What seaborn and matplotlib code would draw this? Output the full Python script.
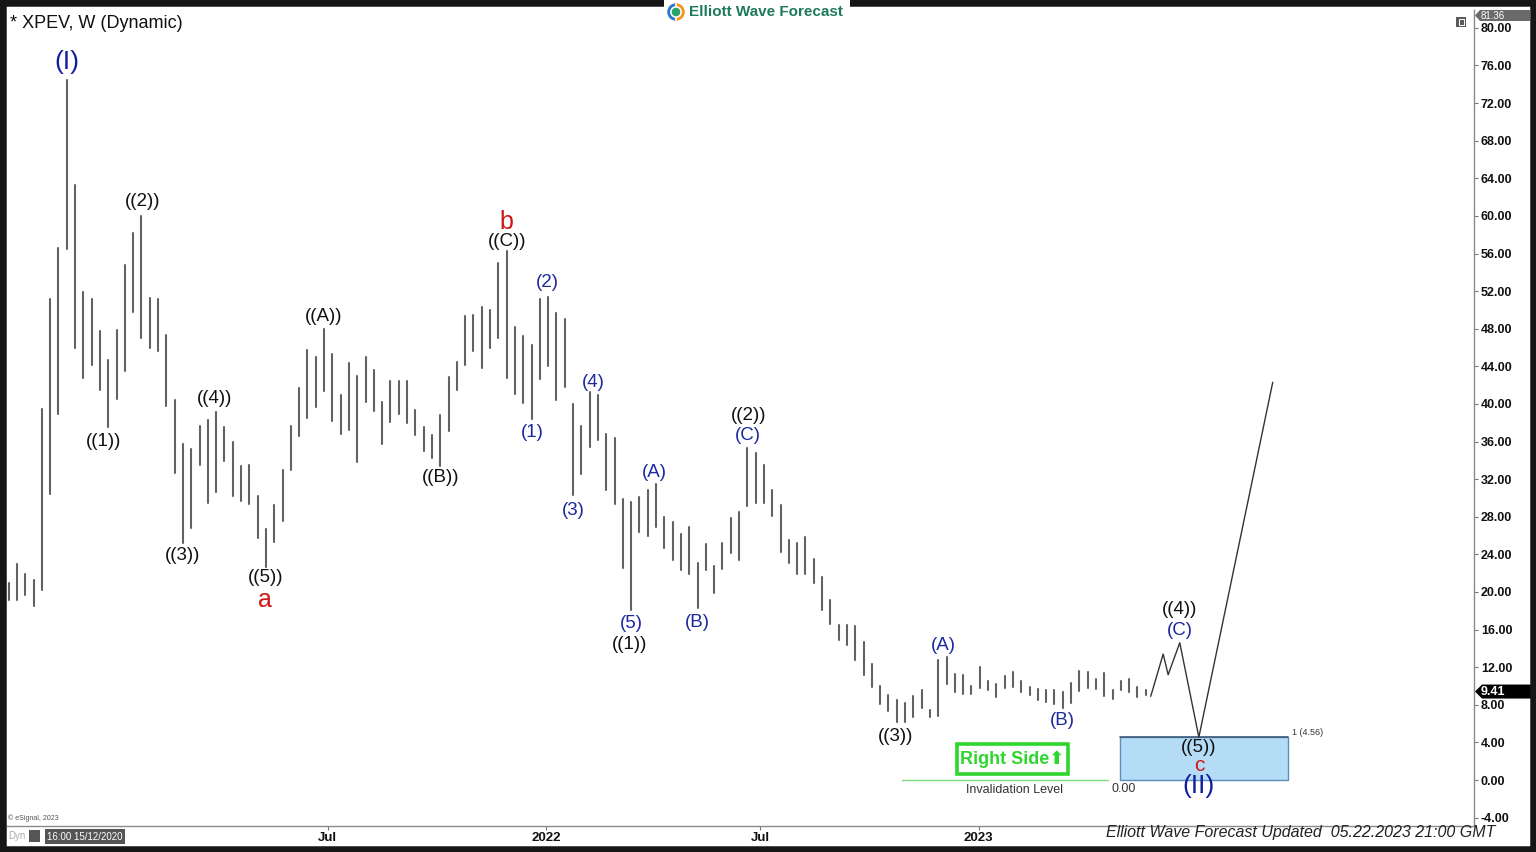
import numpy as np
import pandas as pd
import matplotlib
matplotlib.use("Agg")
import matplotlib.pyplot as plt
import matplotlib.dates as mdates
from matplotlib.patches import Rectangle, Wedge, Polygon
import seaborn as sns

# ---------------- data ----------------
START = "2020-10-05"   # first weekly bar
highs = [21.0, 23.0, 21.9, 21.3, 39.5, 51.2, 56.6, 74.5, 63.3, 51.9,
         51.2, 47.8, 44.7, 47.9, 54.8, 58.2, 60.0, 51.3, 51.2, 47.3,
         40.4, 35.7, 35.2, 37.7, 38.3, 39.1, 37.5, 36.0, 33.4, 33.5,
         30.2, 26.7, 29.3, 33.0, 37.7, 41.7, 45.7, 45.0, 48.0, 45.3,
         40.9, 44.4, 43.0, 45.0, 43.6, 40.2, 42.4, 42.4, 42.4, 39.4,
         37.6, 36.7, 38.8, 42.9, 44.5, 49.4, 49.5, 50.3, 50.0, 55.0,
         56.3, 48.2, 47.2, 46.3, 51.2, 51.4, 49.7, 49.0, 40.0, 37.7,
         41.3, 40.9, 36.8, 36.4, 29.9, 29.6, 30.1, 30.9, 31.5, 28.0,
         27.4, 26.2, 26.9, 23.1, 25.1, 22.8, 25.2, 27.9, 28.5, 35.3,
         34.8, 33.5, 30.9, 29.3, 25.5, 25.2, 25.9, 23.5, 21.6, 19.1,
         16.5, 16.5, 16.4, 14.7, 12.3, 10.0, 9.0, 8.5, 8.2, 8.9,
         9.6, 7.4, 12.8, 13.1, 11.3, 11.2, 10.0, 12.0, 10.5, 10.2,
         11.1, 11.5, 10.5, 9.9, 9.7, 9.6, 9.6, 9.4, 10.3, 11.6,
         11.5, 10.7, 11.4, 9.6, 10.5, 10.7, 9.9, 9.6]
lows = [19.2, 19.2, 19.7, 18.5, 20.2, 30.4, 38.9, 56.5, 45.9, 42.8,
        44.1, 41.5, 37.5, 40.5, 43.5, 49.8, 47.0, 45.9, 45.6, 39.8,
        32.7, 25.2, 26.8, 33.5, 29.5, 30.6, 33.9, 30.2, 29.7, 29.4,
        25.7, 22.7, 25.3, 27.6, 33.0, 36.6, 38.5, 39.7, 41.4, 38.2,
        36.8, 37.2, 33.8, 40.2, 39.2, 35.7, 38.1, 38.9, 38.0, 36.7,
        35.0, 34.3, 33.4, 37.1, 41.5, 44.1, 45.6, 43.8, 45.9, 47.0,
        42.8, 41.1, 40.1, 38.4, 42.7, 44.0, 40.4, 41.8, 30.3, 32.6,
        35.4, 36.2, 30.8, 29.4, 22.6, 18.1, 26.4, 26.0, 26.9, 24.7,
        23.4, 22.3, 21.9, 18.3, 22.3, 19.9, 22.4, 24.1, 23.4, 29.1,
        29.5, 29.5, 28.1, 24.2, 23.1, 21.9, 21.9, 21.0, 18.1, 16.6,
        14.9, 14.4, 12.8, 11.2, 9.9, 8.1, 7.3, 6.2, 6.2, 6.7,
        7.7, 6.7, 6.8, 10.2, 9.4, 9.2, 9.1, 9.8, 9.6, 8.8,
        9.8, 9.9, 9.4, 9.0, 8.5, 8.3, 8.1, 7.7, 8.2, 9.5,
        9.8, 9.7, 8.9, 8.6, 9.6, 9.4, 8.8, 9.0]

# wave labels: text, week index, price, style
wave_text = ["(I)", "((1))", "((2))", "((3))", "((4))", "((5))", "a",
             "((A))", "((B))", "b", "((C))",
             "(1)", "(2)", "(3)", "(4)", "(5)", "((1))", "(A)", "(B)",
             "((2))", "(C)", "((3))", "(A)", "(B)", "((4))", "(C)",
             "((5))", "c", "(II)"]
wave_week = [7.0, 11.4, 16.1, 21.0, 24.8, 30.9, 30.9,
             38.0, 52.0, 60.0, 60.0,
             63.1, 64.9, 68.0, 70.5, 75.0, 74.8, 77.8, 83.0,
             89.2, 89.1, 106.9, 112.6, 127.0, 141.1, 141.1,
             143.4, 143.4, 143.4]
wave_price = [76.4, 36.0, 61.5, 23.9, 40.6, 21.5, 19.2,
              49.3, 32.2, 59.4, 57.3,
              37.0, 52.9, 28.7, 42.3, 16.7, 14.4, 32.7, 16.8,
              38.8, 36.6, 4.6, 14.3, 6.3, 18.1, 15.9,
              3.5, 1.55, -0.65]
wave_style = ["bigblue", "black", "black", "black", "black", "black", "red",
              "black", "black", "red", "black",
              "blue", "blue", "blue", "blue", "blue", "black", "blue", "blue",
              "black", "blue", "black", "blue", "blue", "black", "blue",
              "black", "smallred", "bigblue"]

# projected path
proj_week = [137.6, 139.1, 139.7, 141.1, 143.4, 152.3]
proj_price = [8.9, 13.4, 11.2, 14.6, 4.56, 42.3]

target_week = [133.9, 154.1]
target_price = [0.0, 4.56]
invalid_week = [107.6, 132.5]
invalid_level = 0.0
rightside_week = [114.3, 127.6]
rightside_price = [0.64, 3.83]

yticks = np.arange(-4, 81, 4)
xtick_dates = ["2021-07-01", "2022-01-01", "2022-07-01", "2023-01-01"]
xtick_labels = ["Jul", "2022", "Jul", "2023"]
last_price = 9.41
max_price = 81.36

# ---------------- helpers ----------------
t0 = pd.Timestamp(START)


def wk(w):
    """week index -> matplotlib date number"""
    return mdates.date2num(t0) + np.asarray(w, dtype=float) * 7.0


dates = pd.date_range(START, periods=len(highs), freq="7D")
long_df = pd.DataFrame({
    "date": np.repeat(dates, 2),
    "price": np.ravel(np.column_stack([lows, highs])),
    "bar": np.repeat(np.arange(len(highs)), 2),
})
proj_df = pd.DataFrame({"date": t0 + pd.to_timedelta(np.array(proj_week) * 7, unit="D"),
                        "price": proj_price})

W, H = 1536, 852


def fx(px):
    return px / W


def fy(py):
    return 1 - py / H


sns.set_theme(style="white")
plt.rcParams["font.family"] = ["Liberation Sans", "DejaVu Sans"]

fig = plt.figure(figsize=(15.36, 8.52), dpi=100, facecolor="white")
ax = fig.add_axes([fx(7), fy(826), fx(1474) - fx(7), fy(10) - fy(826)])
ax.set_facecolor("white")

# price bars (high-low)
sns.lineplot(data=long_df, x="date", y="price", units="bar", estimator=None,
             sort=False, color="#626262", linewidth=1.5, ax=ax, legend=False)
# projection
sns.lineplot(data=proj_df, x="date", y="price", estimator=None, sort=False,
             color="#333333", linewidth=1.0, ax=ax, legend=False)

# target box
ax.add_patch(Rectangle((wk(target_week[0]), target_price[0]),
                       wk(target_week[1]) - wk(target_week[0]),
                       target_price[1] - target_price[0],
                       facecolor="#b5dcf6", edgecolor="#5a8fbf", linewidth=1.0, zorder=1))
ax.plot([wk(target_week[0]), wk(target_week[1])], [target_price[1]] * 2,
        color="#3d5c78", lw=1.2, zorder=1.5)
ax.text(wk(target_week[1]) + 0.5 * 7, target_price[1] + 0.5, f"1 ({target_price[1]:.2f})",
        fontsize=6.5, color="#333", ha="left", va="center")

# invalidation
ax.plot([wk(invalid_week[0]), wk(invalid_week[1])], [invalid_level] * 2,
        color="#7ddc7d", lw=1.0)
ax.text(wk(121.2), -1.05, "Invalidation Level", fontsize=9, color="#333",
        ha="center", va="center")
ax.text(wk(134.3), -1.0, f"{invalid_level:.2f}", fontsize=9, color="#333",
        ha="center", va="center")

# right side box
ax.add_patch(Rectangle((wk(rightside_week[0]), rightside_price[0]),
                       wk(rightside_week[1]) - wk(rightside_week[0]),
                       rightside_price[1] - rightside_price[0],
                       facecolor="white", edgecolor="#2ed62e", linewidth=2.6, zorder=3))
ax.text((wk(rightside_week[0]) + wk(rightside_week[1])) / 2,
        (rightside_price[0] + rightside_price[1]) / 2, "Right Side\u2B06",
        fontsize=13, fontweight="bold", color="#2ed62e", ha="center", va="center",
        zorder=4, family=["Liberation Sans Narrow", "Liberation Sans", "DejaVu Sans"])

# wave labels
styles = {
    "black": dict(color="#111111", fontsize=13.5),
    "blue": dict(color="#1c2a9c", fontsize=13.5),
    "bigblue": dict(color="#12209a", fontsize=19),
    "red": dict(color="#d01515", fontsize=18),
    "smallred": dict(color="#d01515", fontsize=15),
}
for t, w, p, s in zip(wave_text, wave_week, wave_price, wave_style):
    ax.text(wk(w), p, t, ha="center", va="center", zorder=5, **styles[s])

# axes config
ax.set_xlim(wk(-0.2), wk(176.55))
ax.set_ylim(-4.89, 81.9)
ax.set_xlabel("")
ax.set_ylabel("")
ax.yaxis.tick_right()
ax.set_yticks(yticks)
ax.set_yticklabels([f"{v:.2f}" for v in yticks], fontsize=9, fontweight="bold", color="#111")
ax.set_xticks(mdates.date2num(pd.to_datetime(xtick_dates)))
ax.set_xticklabels(xtick_labels, fontsize=9.5, fontweight="bold", color="#111")
ax.tick_params(axis="y", which="major", direction="out", length=3, width=0.8,
               color="#777", pad=2, right=True, left=False)
ax.tick_params(axis="x", which="major", direction="out", length=3, width=0.8,
               color="#777", pad=1.5, bottom=True)
for side in ["top", "left"]:
    ax.spines[side].set_visible(False)
for side in ["right", "bottom"]:
    ax.spines[side].set_color("#8a8a8a")
    ax.spines[side].set_linewidth(1.0)
ax.grid(False)

# ---------------- decorations ----------------
# title
fig.text(fx(10), fy(24), "* XPEV, W (Dynamic)", fontsize=13, color="#111",
         ha="left", va="center")
# outer dark frame
fig.add_artist(Rectangle((0, 0), 1, 1, transform=fig.transFigure, fill=False,
                         edgecolor="#161616", linewidth=9, zorder=10))
# logo
fig.add_artist(Rectangle((fx(664), fy(22)), fx(850) - fx(664), fy(0) - fy(22),
                         transform=fig.transFigure, facecolor="white",
                         edgecolor="none", zorder=11))
fig.text(fx(689), fy(11.5), "Elliott Wave Forecast", fontsize=11, fontweight="bold",
         color="#1f7a5c", ha="left", va="center", zorder=12)
lax = fig.add_axes([fx(666), fy(22), 20 / W, 20 / H], zorder=12)
lax.set_xlim(-1, 1)
lax.set_ylim(-1, 1)
lax.set_aspect("equal")
lax.axis("off")
lax.add_patch(Wedge((0, 0), 0.95, 90, 270, width=0.45, facecolor="#2c7bc4"))
lax.add_patch(Wedge((0, 0), 0.95, -90, 90, width=0.45, facecolor="#f39a1e"))
lax.add_patch(Wedge((0, 0), 0.5, 0, 360, facecolor="#2aa36b"))

# small icon top-right of plot
fig.add_artist(Rectangle((fx(1456), fy(27)), 10 / W, 10 / H, transform=fig.transFigure,
                         facecolor="#5a5a5a", edgecolor="none", zorder=6))
fig.add_artist(Rectangle((fx(1458.5), fy(24.5)), 5 / W, 5 / H, transform=fig.transFigure,
                         facecolor="none", edgecolor="white", linewidth=0.7, zorder=7))

# max price marker
fig.add_artist(Polygon([[fx(1475), fy(15.5)], [fx(1480), fy(10)], [fx(1530), fy(10)],
                        [fx(1530), fy(21)], [fx(1480), fy(21)]], closed=True,
                       transform=fig.transFigure, facecolor="#6a6a6a", edgecolor="none", zorder=9))
fig.text(fx(1481), fy(16), f"{max_price:.2f}", fontsize=7, color="white",
         ha="left", va="center", zorder=9)

# last price marker
ly = 780 - last_price * 9.4
fig.add_artist(Polygon([[fx(1475), fy(ly)], [fx(1482), fy(ly - 7)], [fx(1532), fy(ly - 7)],
                        [fx(1532), fy(ly + 7)], [fx(1482), fy(ly + 7)]], closed=True,
                       transform=fig.transFigure, facecolor="black", edgecolor="none", zorder=9))
fig.text(fx(1481), fy(ly), f"{last_price:.2f}", fontsize=9, fontweight="bold",
         color="white", ha="left", va="center", zorder=9)

# bottom-left footer
fig.text(fx(8), fy(818), "\u00a9 eSignal, 2023", fontsize=5, color="#555",
         ha="left", va="center")
fig.text(fx(8), fy(836), "Dyn", fontsize=7, color="#aaa", ha="left", va="center")
fig.add_artist(Rectangle((fx(29), fy(842)), 11 / W, 12 / H, transform=fig.transFigure,
                         facecolor="#555", edgecolor="none", zorder=6))
fig.text(fx(47), fy(836.5), "16:00 15/12/2020", fontsize=7, color="white",
         ha="left", va="center", zorder=8,
         bbox=dict(boxstyle="square,pad=0.25", facecolor="#555", edgecolor="none"))

# bottom-right footer
fig.text(fx(1106), fy(833), "Elliott Wave Forecast Updated  05.22.2023 21:00 GMT",
         fontsize=11.5, style="italic", color="#222", ha="left", va="center", zorder=8)

fig.savefig("out.png", dpi=100, facecolor="white")
